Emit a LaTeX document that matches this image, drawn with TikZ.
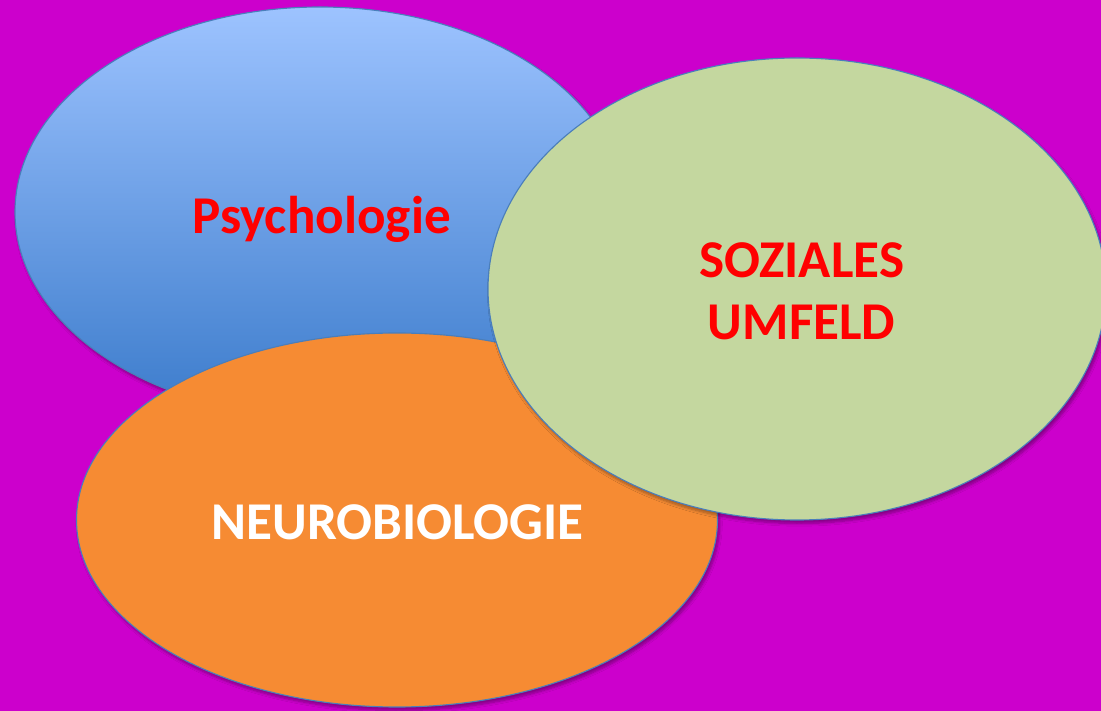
\documentclass[tikz,border=0pt]{standalone}
\usepackage{fontspec}
\setmainfont{Carlito}
\usetikzlibrary{shapes.geometric, shadows.blur}
\definecolor{fieldMagenta}{HTML}{CC00CC}
\definecolor{fieldBlueLight}{HTML}{9DC3FF}
\definecolor{fieldBlueDark}{HTML}{3B7BCB}
\definecolor{fieldOrange}{HTML}{F68B33}
\definecolor{fieldGreen}{HTML}{C4D79F}
\definecolor{fieldEdge}{HTML}{4A7EBB}
\definecolor{fieldRed}{HTML}{FF0000}
\pgfdeclareverticalshading{psyshade}{100bp}{%
    color(0bp)=(fieldBlueDark); color(25bp)=(fieldBlueDark);
    color(75bp)=(fieldBlueLight); color(100bp)=(fieldBlueLight)}

\begin{document}
\begin{tikzpicture}[
        fieldbox/.style={
            ellipse,
            draw=fieldEdge,
            line width=0.8pt,
            inner sep=0pt,
            blur shadow={shadow xshift=1.5pt, shadow yshift=-2.5pt,
                shadow blur steps=6, shadow opacity=35}
        },
        psybox/.style={
            fieldbox,
            shading=psyshade
        },
        neurobox/.style={
            fieldbox,
            fill=fieldOrange
        },
        socialbox/.style={
            fieldbox,
            fill=fieldGreen
        },
        fieldlabel/.style={
            align=center,
            inner sep=0pt,
            font=\bfseries\fontsize{37.8}{44}\selectfont,
            text=fieldRed
        }
    ]

    % 1 px of the slide = 0.025 cm
    \fill[fieldMagenta] (0,0) rectangle (27.525,17.775);
    \useasboundingbox (0,0) rectangle (27.525,17.775);

    \node[psybox, minimum width=15.25cm, minimum height=10.25cm]
        (psy) at (8.0,12.475) {};
    \node[fieldlabel] (psylabel) at (8.04,12.28) {Psychologie};

    \node[neurobox, minimum width=16.025cm, minimum height=9.35cm]
        (neuro) at (9.925,4.775) {};
    \node[fieldlabel, text=white] (neurolabel) at (9.94,4.73) {NEUROBIOLOGIE};

    \node[socialbox, minimum width=15.45cm, minimum height=11.55cm]
        (social) at (19.925,10.55) {};
    \node[fieldlabel] (sociallabel) at (20.04,10.5) {SOZIALES\\UMFELD};

\end{tikzpicture}
\end{document}
